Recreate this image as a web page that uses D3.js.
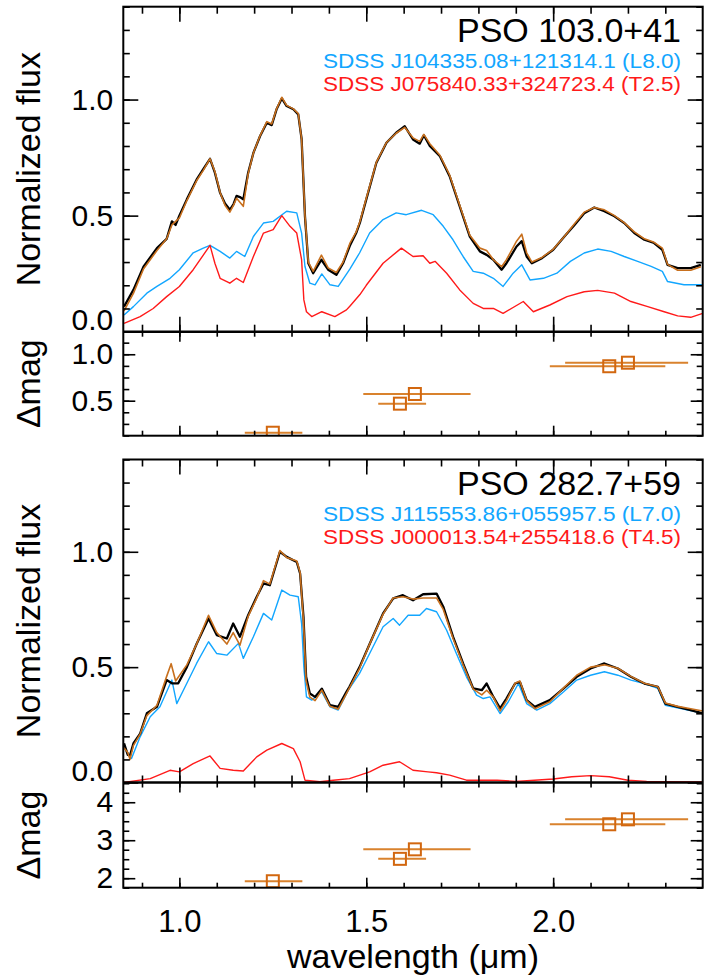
<!DOCTYPE html>
<html>
<head>
<meta charset="utf-8">
<script src="https://cdn.jsdelivr.net/npm/d3@7"></script>
<style>
  body { margin: 0; background: #fff; }
  svg { display: block; font-family: "Liberation Sans", Arial, Helvetica, sans-serif; }
</style>
</head>
<body>
<div id="chart"></div>
<script>
// ---- data: [wavelength (um), normalized flux] ----

// PSO 103.0+41
var black103 = [[0.852,0.108],[0.877,0.18],[0.904,0.28],[0.94,0.36],[0.966,0.40],[0.98,0.475],[0.99,0.46],[1.0,0.50],[1.02,0.57],[1.046,0.655],[1.064,0.70],[1.082,0.745],[1.095,0.685],[1.109,0.598],[1.122,0.552],[1.135,0.525],[1.145,0.55],[1.153,0.585],[1.162,0.58],[1.171,0.57],[1.184,0.685],[1.198,0.77],[1.216,0.843],[1.234,0.90],[1.247,0.89],[1.26,0.958],[1.274,1.005],[1.287,0.972],[1.305,0.958],[1.318,0.936],[1.327,0.83],[1.336,0.497],[1.345,0.295],[1.358,0.252],[1.38,0.31],[1.398,0.267],[1.42,0.245],[1.438,0.295],[1.456,0.37],[1.473,0.425],[1.483,0.47],[1.5,0.57],[1.527,0.728],[1.554,0.814],[1.58,0.857],[1.603,0.885],[1.625,0.828],[1.643,0.81],[1.654,0.846],[1.67,0.80],[1.697,0.756],[1.723,0.67],[1.75,0.54],[1.777,0.41],[1.804,0.346],[1.822,0.331],[1.84,0.31],[1.862,0.267],[1.875,0.295],[1.902,0.367],[1.916,0.39],[1.929,0.324],[1.943,0.295],[1.97,0.317],[2.0,0.353],[2.03,0.41],[2.057,0.46],[2.083,0.51],[2.11,0.535],[2.137,0.519],[2.164,0.497],[2.19,0.468],[2.217,0.425],[2.244,0.396],[2.27,0.382],[2.292,0.353],[2.306,0.288],[2.333,0.274],[2.368,0.274],[2.395,0.288]];
var fit103 = [[0.852,0.09],[0.877,0.165],[0.904,0.27],[0.94,0.35],[0.966,0.40],[0.98,0.46],[1.0,0.49],[1.02,0.565],[1.046,0.65],[1.064,0.695],[1.082,0.745],[1.095,0.69],[1.109,0.60],[1.122,0.545],[1.135,0.515],[1.145,0.545],[1.153,0.575],[1.171,0.54],[1.184,0.68],[1.198,0.77],[1.216,0.845],[1.234,0.905],[1.247,0.895],[1.26,0.96],[1.274,1.01],[1.287,0.975],[1.305,0.96],[1.318,0.94],[1.327,0.83],[1.336,0.50],[1.345,0.30],[1.358,0.26],[1.38,0.33],[1.398,0.275],[1.42,0.255],[1.438,0.30],[1.456,0.38],[1.473,0.43],[1.483,0.475],[1.5,0.575],[1.527,0.73],[1.554,0.815],[1.58,0.855],[1.603,0.88],[1.625,0.835],[1.643,0.82],[1.654,0.85],[1.67,0.81],[1.697,0.76],[1.723,0.675],[1.75,0.545],[1.777,0.415],[1.804,0.36],[1.822,0.35],[1.84,0.31],[1.862,0.28],[1.875,0.31],[1.902,0.39],[1.916,0.42],[1.929,0.34],[1.943,0.30],[1.97,0.32],[2.0,0.355],[2.03,0.41],[2.057,0.465],[2.083,0.515],[2.11,0.535],[2.137,0.525],[2.164,0.50],[2.19,0.47],[2.217,0.43],[2.244,0.40],[2.27,0.385],[2.292,0.36],[2.306,0.29],[2.333,0.265],[2.368,0.265],[2.395,0.28]];
var blue103 = [[0.852,0.072],[0.877,0.108],[0.913,0.166],[0.94,0.195],[0.975,0.23],[1.0,0.267],[1.037,0.34],[1.064,0.36],[1.082,0.372],[1.109,0.346],[1.135,0.317],[1.153,0.346],[1.175,0.324],[1.198,0.41],[1.225,0.468],[1.251,0.475],[1.287,0.519],[1.314,0.512],[1.327,0.425],[1.336,0.281],[1.349,0.209],[1.363,0.202],[1.381,0.249],[1.403,0.202],[1.425,0.195],[1.456,0.27],[1.482,0.339],[1.509,0.425],[1.545,0.483],[1.58,0.512],[1.607,0.504],[1.648,0.523],[1.679,0.504],[1.706,0.454],[1.732,0.396],[1.759,0.324],[1.786,0.26],[1.813,0.252],[1.84,0.23],[1.866,0.195],[1.893,0.252],[1.916,0.288],[1.938,0.223],[1.974,0.23],[2.01,0.252],[2.046,0.303],[2.083,0.339],[2.119,0.356],[2.155,0.346],[2.19,0.324],[2.226,0.303],[2.262,0.281],[2.292,0.26],[2.306,0.216],[2.35,0.202],[2.40,0.202]];
var red103 = [[0.852,0.036],[0.895,0.065],[0.93,0.10],[0.966,0.151],[1.0,0.195],[1.037,0.267],[1.082,0.372],[1.095,0.295],[1.109,0.23],[1.127,0.216],[1.135,0.209],[1.153,0.23],[1.171,0.212],[1.198,0.324],[1.225,0.425],[1.251,0.44],[1.274,0.50],[1.296,0.454],[1.314,0.425],[1.327,0.31],[1.333,0.137],[1.34,0.086],[1.354,0.065],[1.381,0.086],[1.416,0.065],[1.447,0.094],[1.456,0.11],[1.483,0.16],[1.5,0.2],[1.545,0.295],[1.594,0.36],[1.625,0.324],[1.652,0.327],[1.67,0.295],[1.684,0.303],[1.715,0.252],[1.75,0.18],[1.786,0.122],[1.813,0.10],[1.84,0.10],[1.866,0.079],[1.92,0.13],[1.947,0.086],[1.991,0.115],[2.037,0.151],[2.083,0.172],[2.119,0.178],[2.164,0.166],[2.208,0.13],[2.253,0.108],[2.297,0.086],[2.333,0.068],[2.368,0.062],[2.40,0.079]];

// PSO 282.7+59
var black282 = [[0.852,0.17],[0.862,0.12],[0.868,0.118],[0.877,0.169],[0.895,0.212],[0.913,0.30],[0.94,0.328],[0.966,0.444],[0.98,0.43],[0.997,0.43],[1.02,0.50],[1.046,0.60],[1.078,0.711],[1.1,0.639],[1.127,0.624],[1.144,0.689],[1.162,0.632],[1.184,0.725],[1.207,0.805],[1.225,0.863],[1.242,0.855],[1.269,1.0],[1.287,0.978],[1.314,0.956],[1.323,0.906],[1.332,0.718],[1.339,0.458],[1.349,0.386],[1.363,0.371],[1.381,0.407],[1.403,0.335],[1.425,0.328],[1.447,0.393],[1.455,0.415],[1.482,0.50],[1.509,0.60],[1.545,0.733],[1.572,0.798],[1.598,0.812],[1.625,0.79],[1.652,0.816],[1.688,0.819],[1.706,0.762],[1.732,0.632],[1.759,0.516],[1.786,0.408],[1.809,0.40],[1.822,0.429],[1.84,0.371],[1.858,0.321],[1.875,0.364],[1.898,0.429],[1.911,0.436],[1.929,0.357],[1.951,0.328],[1.991,0.357],[2.028,0.408],[2.063,0.458],[2.1,0.494],[2.137,0.516],[2.173,0.494],[2.208,0.458],[2.244,0.429],[2.28,0.415],[2.3,0.342],[2.333,0.328],[2.368,0.314],[2.40,0.30]];
var fit282 = [[0.852,0.15],[0.862,0.13],[0.868,0.10],[0.877,0.16],[0.895,0.21],[0.913,0.29],[0.94,0.335],[0.966,0.46],[0.978,0.515],[0.99,0.44],[1.02,0.51],[1.046,0.60],[1.078,0.725],[1.1,0.65],[1.127,0.60],[1.144,0.65],[1.162,0.595],[1.184,0.72],[1.207,0.80],[1.225,0.875],[1.242,0.86],[1.269,1.005],[1.287,0.975],[1.314,0.96],[1.323,0.91],[1.332,0.70],[1.339,0.44],[1.349,0.37],[1.363,0.355],[1.381,0.40],[1.403,0.33],[1.425,0.318],[1.447,0.385],[1.455,0.41],[1.482,0.495],[1.509,0.60],[1.545,0.73],[1.572,0.80],[1.598,0.805],[1.625,0.795],[1.652,0.80],[1.688,0.80],[1.706,0.75],[1.732,0.625],[1.759,0.51],[1.786,0.405],[1.809,0.38],[1.822,0.40],[1.84,0.37],[1.858,0.31],[1.875,0.355],[1.898,0.43],[1.911,0.44],[1.929,0.355],[1.951,0.32],[1.991,0.35],[2.028,0.41],[2.063,0.465],[2.1,0.50],[2.137,0.51],[2.173,0.495],[2.208,0.46],[2.244,0.43],[2.28,0.415],[2.3,0.345],[2.333,0.33],[2.368,0.32],[2.40,0.31]];
var blue282 = [[0.855,0.147],[0.872,0.104],[0.895,0.198],[0.922,0.285],[0.948,0.328],[0.98,0.444],[0.993,0.342],[1.02,0.43],[1.046,0.516],[1.078,0.61],[1.1,0.559],[1.127,0.552],[1.158,0.603],[1.171,0.538],[1.198,0.632],[1.225,0.733],[1.247,0.704],[1.274,0.834],[1.296,0.812],[1.318,0.805],[1.327,0.689],[1.333,0.501],[1.34,0.371],[1.354,0.357],[1.381,0.393],[1.403,0.328],[1.425,0.314],[1.452,0.40],[1.482,0.473],[1.509,0.559],[1.545,0.675],[1.572,0.711],[1.589,0.682],[1.612,0.725],[1.643,0.725],[1.661,0.754],[1.688,0.74],[1.715,0.66],[1.741,0.559],[1.768,0.458],[1.795,0.379],[1.813,0.364],[1.831,0.371],[1.858,0.299],[1.88,0.35],[1.907,0.429],[1.929,0.342],[1.956,0.314],[1.991,0.342],[2.028,0.393],[2.063,0.444],[2.1,0.465],[2.137,0.48],[2.173,0.465],[2.208,0.444],[2.244,0.429],[2.28,0.408],[2.3,0.335],[2.342,0.321],[2.40,0.30]];
var red282 = [[0.852,0.0],[0.922,0.017],[0.975,0.053],[1.0,0.046],[1.037,0.082],[1.082,0.115],[1.109,0.061],[1.144,0.053],[1.171,0.05],[1.207,0.111],[1.234,0.14],[1.274,0.169],[1.305,0.147],[1.323,0.09],[1.336,0.01],[1.376,0.003],[1.412,0.01],[1.455,0.017],[1.509,0.046],[1.545,0.075],[1.589,0.09],[1.625,0.053],[1.665,0.046],[1.688,0.042],[1.723,0.032],[1.768,0.01],[1.85,0.01],[1.9,0.005],[1.95,0.01],[2.0,0.015],[2.05,0.025],[2.1,0.03],[2.15,0.025],[2.2,0.01],[2.25,0.005],[2.3,0.003],[2.40,0.002]];

// photometry: band centre and width (um), delta mag per object
var bandCenter = [1.25, 1.59, 1.63, 2.15, 2.20];
var bandLo     = [1.175, 1.532, 1.492, 1.991, 2.032];
var bandHi     = [1.329, 1.660, 1.779, 2.300, 2.361];
var dmag103 = [0.155, 0.468, 0.572, 0.871, 0.909];
var dmag282 = [1.92, 2.51, 2.76, 3.42, 3.55];

// ticks
var xMajor = [1.0, 1.5, 2.0];
var fluxMajor = [0.0, 0.5, 1.0];
var dmagMajor103 = [0.5, 1.0];
var dmagMajor282 = [2, 3, 4];

var svgWidth = 710;
var svgHeight = 978;
var xLeft = 123.3, xRight = 702.7;

var colBlack = '#000', colFit = '#c8701e', colBlue = '#12a6ff', colRed = '#ff1a1a';
var colSq = '#d2670f', colBar = '#d9822d';

var svg = d3.select('#chart').append('svg')
    .attr('width', svgWidth)
    .attr('height', svgHeight)

var xScale = d3.scaleLinear().domain([0.85, 2.40]).range([xLeft, xRight])
var xMinor = d3.range(0.9, 2.35, 0.1)

var panels = [
    { id: 'a', top: 6.7, mid: 331.7, bottom: 435.7, dmagDomain: [0.123, 1.243], dmagMajor: dmagMajor103, dmagStep: 0.125,
      title: 'PSO 103.0+41', blueName: 'SDSS J104335.08+121314.1 (L8.0)', redName: 'SDSS J075840.33+324723.4 (T2.5)',
      black: black103, fit: fit103, blue: blue103, red: red103, dmag: dmag103 },
    { id: 'b', top: 459.5, mid: 782.5, bottom: 887.7, dmagDomain: [1.75, 4.52], dmagMajor: dmagMajor282, dmagStep: 0.25,
      title: 'PSO 282.7+59', blueName: 'SDSS J115553.86+055957.5 (L7.0)', redName: 'SDSS J000013.54+255418.6 (T4.5)',
      black: black282, fit: fit282, blue: blue282, red: red282, dmag: dmag282 }
]

function styleAxis(g, width) {
    g.select('.domain').remove()
    g.selectAll('line').attr('stroke', '#000').attr('stroke-width', width || 1.6)
    g.selectAll('text').attr('fill', '#000').attr('font-family', null).attr('font-size', null)
}

// draws inward ticks on all four sides of a box
function boxTicks(yScale, top, bottom, yMaj, yMin, xLen, yLen, labels, isLast) {
    // left major with labels
    var gl = svg.append('g').attr('transform', `translate(${xLeft},0)`)
        .call(d3.axisLeft(yScale).tickValues(yMaj).tickSize(-yLen[0]).tickPadding(10)
            .tickFormat(labels))
    styleAxis(gl)
    gl.selectAll('text').style('font-size', '30px')
    gl.selectAll('.tick').filter(d => d === 0).select('text').attr('y', -12)

    svg.append('g').attr('transform', `translate(${xLeft},0)`)
        .call(d3.axisLeft(yScale).tickValues(yMin).tickSize(-yLen[1]).tickFormat(''))
        .call(styleAxis)
    svg.append('g').attr('transform', `translate(${xRight},0)`)
        .call(d3.axisRight(yScale).tickValues(yMaj).tickSize(-yLen[0]).tickFormat(''))
        .call(styleAxis)
    svg.append('g').attr('transform', `translate(${xRight},0)`)
        .call(d3.axisRight(yScale).tickValues(yMin).tickSize(-yLen[1]).tickFormat(''))
        .call(styleAxis)

    svg.append('g').attr('transform', `translate(0,${top})`)
        .call(d3.axisTop(xScale).tickValues(xMajor).tickSize(-xLen[0]).tickFormat(''))
        .call(styleAxis)
    svg.append('g').attr('transform', `translate(0,${top})`)
        .call(d3.axisTop(xScale).tickValues(xMinor).tickSize(-xLen[1]).tickFormat(''))
        .call(styleAxis)

    var gb = svg.append('g').attr('transform', `translate(0,${bottom})`)
        .call(d3.axisBottom(xScale).tickValues(xMajor).tickSize(-xLen[0]).tickPadding(22)
            .tickFormat(isLast ? d3.format('.1f') : ''))
    styleAxis(gb)
    gb.selectAll('text').style('font-size', '31px')
    svg.append('g').attr('transform', `translate(0,${bottom})`)
        .call(d3.axisBottom(xScale).tickValues(xMinor).tickSize(-xLen[1]).tickFormat(''))
        .call(styleAxis)
}

panels.forEach(function(p, i) {
    var yFlux = d3.scaleLinear().domain([0, 1.4]).range([p.mid, p.top])
    var yMag = d3.scaleLinear().domain(p.dmagDomain).range([p.bottom, p.mid])

    // clip areas
    svg.append('clipPath').attr('id', 'clipF' + p.id)
        .append('rect').attr('x', xLeft).attr('y', p.top).attr('width', xRight - xLeft).attr('height', p.mid - p.top)
    svg.append('clipPath').attr('id', 'clipM' + p.id)
        .append('rect').attr('x', xLeft).attr('y', p.mid).attr('width', xRight - xLeft).attr('height', p.bottom - p.mid)

    var line = d3.line().x(d => xScale(d[0])).y(d => yFlux(d[1]))

    var spec = svg.append('g').attr('clip-path', `url(#clipF${p.id})`)
    var series = [
        { data: p.blue, color: colBlue, w: 1.4 },
        { data: p.red, color: colRed, w: 1.4 },
        { data: p.black, color: colBlack, w: 2.3 },
        { data: p.fit, color: colFit, w: 1.6 }
    ]
    spec.selectAll('path')
        .data(series)
        .enter()
        .append('path')
        .attr('d', d => line(d.data))
        .attr('fill', 'none')
        .attr('stroke', d => d.color)
        .attr('stroke-width', d => d.w)
        .attr('stroke-linejoin', 'round')

    // delta mag points
    var phot = bandCenter.map((c, k) => ({ c: c, lo: bandLo[k], hi: bandHi[k], m: p.dmag[k] }))
    var mg = svg.append('g').attr('clip-path', `url(#clipM${p.id})`)
    mg.selectAll('line')
        .data(phot)
        .enter()
        .append('line')
        .attr('x1', d => xScale(d.lo))
        .attr('x2', d => xScale(d.hi))
        .attr('y1', d => yMag(d.m))
        .attr('y2', d => yMag(d.m))
        .attr('stroke', colBar)
        .attr('stroke-width', 2)
    mg.selectAll('rect')
        .data(phot)
        .enter()
        .append('rect')
        .attr('x', d => xScale(d.c) - 6)
        .attr('y', d => yMag(d.m) - 6)
        .attr('width', 12)
        .attr('height', 12)
        .attr('fill', 'none')
        .attr('stroke', colSq)
        .attr('stroke-width', 2)

    // axes
    boxTicks(yFlux, p.top, p.mid, fluxMajor, d3.range(0, 1.41, 0.1), [15, 7], [15, 6.5], d3.format('.1f'), false)
    var magMinor = d3.range(Math.ceil(p.dmagDomain[0] / p.dmagStep) * p.dmagStep, p.dmagDomain[1], p.dmagStep)
    boxTicks(yMag, p.mid, p.bottom, p.dmagMajor, magMinor, [10, 5], [12, 6],
        i === 0 ? d3.format('.1f') : d3.format('d'), i === 1)

    // frames
    svg.append('rect')
        .attr('x', xLeft).attr('y', p.top)
        .attr('width', xRight - xLeft).attr('height', p.bottom - p.top)
        .attr('fill', 'none').attr('stroke', '#000').attr('stroke-width', 2)
    svg.append('line')
        .attr('x1', xLeft).attr('x2', xRight).attr('y1', p.mid).attr('y2', p.mid)
        .attr('stroke', '#000').attr('stroke-width', 2.4)

    // axis titles
    svg.append('text')
        .attr('transform', `translate(40,${(p.top + p.mid) / 2}) rotate(-90)`)
        .attr('text-anchor', 'middle')
        .style('font-size', '34px')
        .text('Normalized flux')
    svg.append('text')
        .attr('transform', `translate(40,${(p.mid + p.bottom) / 2}) rotate(-90)`)
        .attr('text-anchor', 'middle')
        .style('font-size', '34px')
        .text('\u0394mag')

    // legend
    svg.append('text')
        .attr('x', 681).attr('y', p.top + 35.5)
        .attr('text-anchor', 'end')
        .style('font-size', '34px')
        .text(p.title)
    svg.append('text')
        .attr('x', 681).attr('y', p.top + 61.5)
        .attr('text-anchor', 'end')
        .attr('fill', colBlue)
        .attr('textLength', 358)
        .attr('lengthAdjust', 'spacingAndGlyphs')
        .style('font-size', '20px')
        .text(p.blueName)
    svg.append('text')
        .attr('x', 681).attr('y', p.top + 84)
        .attr('text-anchor', 'end')
        .attr('fill', colRed)
        .attr('textLength', 358)
        .attr('lengthAdjust', 'spacingAndGlyphs')
        .style('font-size', '20px')
        .text(p.redName)
})

svg.append('text')
    .attr('x', (xLeft + xRight) / 2)
    .attr('y', 968)
    .attr('text-anchor', 'middle')
    .style('font-size', '34px')
    .text('wavelength (\u03bcm)')
</script>
</body>
</html>
